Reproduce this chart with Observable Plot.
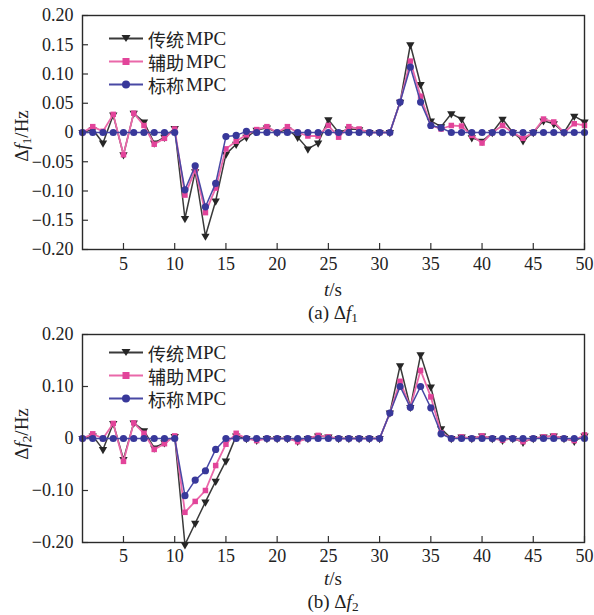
<!DOCTYPE html>
<html>
<head>
<meta charset="utf-8">
<script src="https://cdn.jsdelivr.net/npm/d3@7"></script>
<script src="https://cdn.jsdelivr.net/npm/@observablehq/plot@0.6"></script>
<style>
  body { margin: 0; background: #fff; }
  #root { position: relative; width: 594px; height: 615px; overflow: hidden;
          font-family: "Liberation Serif", "Times New Roman", serif; color: #222; }
  .panel { position: absolute; left: 0; width: 594px; }
  .lbl { position: absolute; white-space: nowrap; transform: translate(-50%, -50%); font-size: 19px; line-height: 1; }
  .ylab { transform: translate(-50%, -50%) rotate(-90deg); }
  .lbl sub { font-size: 0.7em; vertical-align: -0.25em; line-height: 0; }
  .legrow { position: absolute; display: flex; align-items: center; white-space: nowrap;
            transform: translateY(-50%); font-size: 19px; line-height: 1; }
  .legrow svg { display: block; margin-right: 5px; }
  .cjk { font-family: "Noto Sans CJK SC", sans-serif; font-size: 18px; margin-right: 2px; }
</style>
</head>
<body>
<div id="root"></div>
<script>
// ---------------- data ----------------
const tSteps = [1,2,3,4,5,6,7,8,9,10,11,12,13,14,15,16,17,18,19,20,21,22,23,24,25,
                26,27,28,29,30,31,32,33,34,35,36,37,38,39,40,41,42,43,44,45,46,47,48,49,50];
const seriesNames = ["传统MPC", "辅助MPC", "标称MPC"];
const xTicks = [5,10,15,20,25,30,35,40,45,50];
const yTicks1 = [-0.2,-0.15,-0.1,-0.05,0,0.05,0.1,0.15,0.2];
const yTicks2 = [-0.2,-0.1,0,0.1,0.2];

// (a) Δf1
const f1Trad = [0,0.005,-0.018,0.03,-0.038,0.033,0.018,-0.018,-0.008,0.007,
                -0.147,-0.067,-0.177,-0.117,-0.037,-0.02,-0.008,0.004,0.008,0,
                0.005,-0.008,-0.028,-0.018,0.022,0,0.006,0.005,0,0,
                0,0.052,0.15,0.082,0.02,0.01,0.032,0.023,-0.009,-0.015,
                0,0.023,0,-0.014,0,0.02,0.015,0,0.028,0.018];
const f1Aux  = [0,0.01,0.002,0.031,-0.038,0.033,0.012,-0.02,-0.01,0.006,
                -0.107,-0.064,-0.137,-0.095,-0.028,-0.015,-0.004,0.005,0.01,0,
                0.01,0,-0.006,-0.006,0.012,-0.008,0.01,0.006,0,0,
                0,0.052,0.122,0.062,0.012,0.006,0.012,0.011,-0.005,-0.018,
                0,0.012,0,-0.01,0,0.023,0.018,0,0.015,0.012];
const f1Nom  = [0,0,0,0,0,0,0,0,0,0,
                -0.098,-0.057,-0.127,-0.087,-0.007,-0.005,0.002,0,0,0,
                0,0,0,0,0,0,0,0,0,0,
                0,0.052,0.112,0.052,0.012,0.008,0,0,0,0,
                0,0,0,0,0,0,0,0,0,0];

// (b) Δf2
const f2Trad = [0,0.005,-0.021,0.029,-0.04,0.03,0.015,-0.018,-0.008,0.004,
                -0.204,-0.163,-0.122,-0.082,-0.043,0.005,0,-0.003,0,0,
                0,-0.005,0,0.005,0.003,0,0,0,0,0,
                0.049,0.14,0.06,0.161,0.099,0.019,0,0.003,0,0.005,
                0,-0.003,0,-0.007,0,0.003,0.005,0,-0.005,0.005];
const f2Aux  = [0,0.009,0,0.029,-0.044,0.03,0.01,-0.021,-0.01,0.005,
                -0.142,-0.121,-0.1,-0.052,-0.011,0.01,0,-0.004,0,0,
                0,-0.006,0,0.006,0.003,0,0,0,0,0,
                0.049,0.11,0.06,0.131,0.08,0.011,0,0.003,0,0.005,
                0,-0.003,0,-0.006,0,0.003,0.005,0,-0.004,0.007];
const f2Nom  = [0,0,0,0,0,0,0,0,0,0,
                -0.11,-0.08,-0.062,-0.021,0,0,0,0,0,0,
                0,0,0,0,0,0,0,0,0,0,
                0.049,0.1,0.06,0.1,0.059,0.009,0,0,0,0,
                0,0,0,0,0,0,0,0,0,0];

// ---------------- styles ----------------
const lineColors = ["#3a3a3a", "#ea68a9", "#4848a4"];
const markColors = ["#262626", "#e2449a", "#38389a"];

function rows(vals) { return tSteps.map((t, i) => ({t, v: vals[i]})); }

const fmt = d => d === 0 ? "0" : d3.format(".2f")(d);

function panel(opts) {
  const {series, yTicks, top, height, plotBottom, labelPad} = opts;
  const mT = 15, mL = 82, mR = 10;
  const mB = height - plotBottom;
  const plotH = plotBottom - mT, plotW = 594 - mL - mR;
  const [trad, aux, nom] = series.map(rows);
  const chart = Plot.plot({
    width: 594, height,
    marginTop: mT, marginLeft: mL, marginRight: mR, marginBottom: mB,
    x: {domain: [1, 50]},
    y: {domain: [-0.2, 0.2]},
    style: {fontFamily: "Liberation Serif, Times New Roman, serif", fontSize: "18px", color: "#222", background: "transparent", overflow: "visible"},
    marks: [
      Plot.axisX(xTicks, {tickSize: 0, tickPadding: labelPad, label: null}),
      Plot.axisY(yTicks, {tickSize: 0, tickPadding: 9, label: null, tickFormat: fmt}),
      Plot.tickX(xTicks, {x: d => d, insetTop: plotH - 6, stroke: "#333", strokeWidth: 1.2}),
      Plot.tickY(yTicks, {y: d => d, insetRight: plotW - 6, stroke: "#333", strokeWidth: 1.2}),
      Plot.line(trad, {x: "t", y: "v", stroke: lineColors[0], strokeWidth: 1.5}),
      Plot.dot(trad, {x: "t", y: "v", symbol: "triangle", rotate: 180, r: 3.1, fill: markColors[0], stroke: "none"}),
      Plot.line(aux, {x: "t", y: "v", stroke: lineColors[1], strokeWidth: 1.8}),
      Plot.dot(aux, {x: "t", y: "v", symbol: "square", r: 3.1, fill: markColors[1], stroke: "none"}),
      Plot.line(nom, {x: "t", y: "v", stroke: lineColors[2], strokeWidth: 1.5}),
      Plot.dot(nom, {x: "t", y: "v", r: 3.6, fill: markColors[2], stroke: "none"}),
      Plot.frame({stroke: "#2a2a2a", strokeWidth: 1.4})
    ]
  });
  const div = document.createElement("div");
  div.className = "panel";
  div.style.top = top + "px";
  div.style.height = height + "px";
  div.appendChild(chart);
  return div;
}

function legendSwatch(i) {
  const ns = "http://www.w3.org/2000/svg";
  const svg = document.createElementNS(ns, "svg");
  svg.setAttribute("width", 34); svg.setAttribute("height", 12);
  const ln = document.createElementNS(ns, "line");
  ln.setAttribute("x1", 0); ln.setAttribute("x2", 34); ln.setAttribute("y1", 6); ln.setAttribute("y2", 6);
  ln.setAttribute("stroke", lineColors[i]); ln.setAttribute("stroke-width", 1.8);
  svg.appendChild(ln);
  let m;
  if (i === 0) {
    m = document.createElementNS(ns, "polygon");
    m.setAttribute("points", "12.5,2.5 21.5,2.5 17,9.5");
  } else if (i === 1) {
    m = document.createElementNS(ns, "rect");
    m.setAttribute("x", 13.5); m.setAttribute("y", 2.5); m.setAttribute("width", 7); m.setAttribute("height", 7);
  } else {
    m = document.createElementNS(ns, "circle");
    m.setAttribute("cx", 17); m.setAttribute("cy", 6); m.setAttribute("r", 4);
  }
  m.setAttribute("fill", markColors[i]);
  svg.appendChild(m);
  return svg;
}

function legend(rowYs) {
  const frag = document.createDocumentFragment();
  seriesNames.forEach((name, i) => {
    const row = document.createElement("div");
    row.className = "legrow";
    row.style.left = "109px";
    row.style.top = rowYs[i] + "px";
    row.appendChild(legendSwatch(i));
    const s1 = document.createElement("span");
    s1.className = "cjk";
    s1.textContent = name.replace("MPC", "");
    const s2 = document.createElement("span");
    s2.textContent = "MPC";
    row.appendChild(s1);
    row.appendChild(s2);
    frag.appendChild(row);
  });
  return frag;
}

function label(html, x, y, cls) {
  const d = document.createElement("div");
  d.className = "lbl" + (cls ? " " + cls : "");
  d.style.left = x + "px"; d.style.top = y + "px";
  d.innerHTML = html;
  return d;
}

const root = document.getElementById("root");
root.appendChild(panel({series: [f1Trad, f1Aux, f1Nom], yTicks: yTicks1, top: 0, height: 270, plotBottom: 249, labelPad: 8}));
root.appendChild(panel({series: [f2Trad, f2Aux, f2Nom], yTicks: yTicks2, top: 319, height: 244, plotBottom: 223, labelPad: 7}));

root.appendChild(legend([38, 61, 84]));
root.appendChild(legend([352, 375, 398]));

root.appendChild(label("Δ<i>f</i><sub>1</sub>/Hz", 21, 136, "ylab"));
root.appendChild(label("Δ<i>f</i><sub>2</sub>/Hz", 21, 434, "ylab"));
root.appendChild(label("<i>t</i>/s", 333, 289));
root.appendChild(label("<i>t</i>/s", 333, 578));
root.appendChild(label("(a) Δ<i>f</i><sub>1</sub>", 333, 312));
root.appendChild(label("(b) Δ<i>f</i><sub>2</sub>", 333, 601));
</script>
</body>
</html>
